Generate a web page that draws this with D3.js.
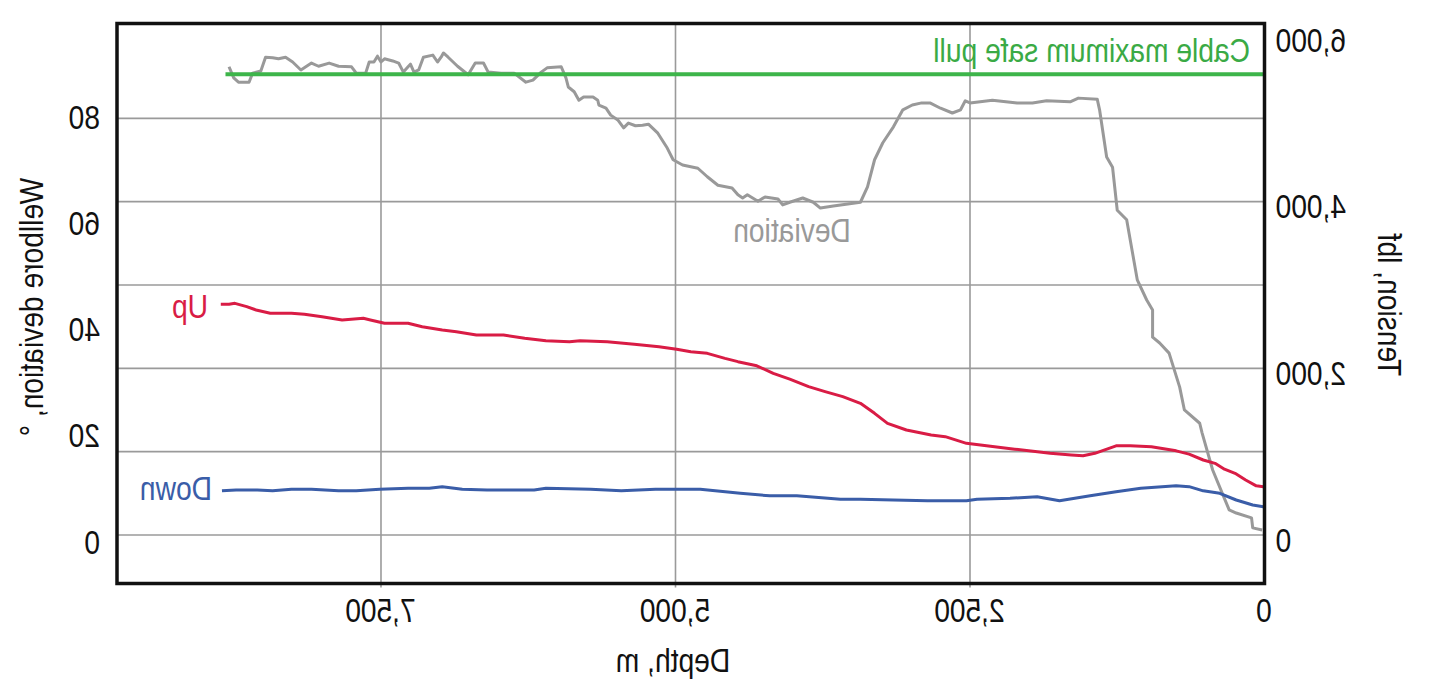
<!DOCTYPE html>
<html>
<head>
<meta charset="utf-8">
<script src="https://cdn.jsdelivr.net/npm/d3@7"></script>
<style>
  body { margin: 0; background: #fff; }
  text { font-family: "Liberation Sans", Arial, sans-serif; }
</style>
</head>
<body>
<div id="vis"></div>
<script>
// the reference is drawn mirrored, so the whole chart is built normally and flipped at the end
const W = 1442, H = 689;
const margin = { top: 23.5, right: 117, bottom: 105.5, left: 177.5 };
const width = W - margin.left - margin.right;
const height = H - margin.top - margin.bottom;
const fontSize = "34px";
const squeeze = 0.83; // the original lettering is a condensed face

// axis ticks
const depthTicks = [0, 2500, 5000, 7500];
const tensionTicks = [0, 2000, 4000, 6000];
const tensionGrid = [0, 1000, 2000, 3000, 4000, 5000];
const deviationTicks = [0, 20, 40, 60, 80];

// wellbore deviation (deg) vs depth (m)
const devDepth = [8790, 8750, 8710, 8620, 8590, 8520, 8480, 8420, 8370, 8310, 8250, 8180, 8090, 8030, 7940,
  7860, 7750, 7710, 7630, 7600, 7560, 7530, 7500, 7470, 7400, 7350, 7310, 7270, 7250, 7220, 7180, 7140,
  7060, 7020, 6990, 6970, 6930, 6850, 6760, 6700, 6630, 6590, 6480, 6370, 6270, 6210, 6140, 6090, 5970,
  5930, 5910, 5860, 5820, 5780, 5700, 5660, 5650, 5590, 5550, 5490, 5440, 5400, 5340, 5280, 5230, 5150,
  5070, 5020, 4940, 4810, 4730, 4640, 4520, 4470, 4430, 4390, 4300, 4240, 4130, 4090, 4030, 3920, 3830,
  3770, 3660, 3430, 3370, 3310, 3240, 3150, 3070, 2990, 2910, 2840, 2750, 2650, 2580, 2540, 2500, 2310,
  2100, 1970, 1850, 1650, 1580, 1420, 1400, 1340, 1290, 1250, 1170, 1080, 1000, 950, 950, 890, 810, 720,
  680, 550, 530, 440, 360, 300, 240, 110, 100, 20];
const devAngle = [88.7, 86.6, 85.8, 85.8, 87.5, 87.9, 90.5, 90.4, 90.2, 90.5, 89.6, 88.1, 89.4, 88.8, 89.4,
  88.8, 88.7, 87.5, 87.5, 89.6, 89.6, 90.7, 89.6, 90.2, 89.8, 89.4, 87.7, 88.7, 89.2, 87.7, 88.1, 90.5,
  90.9, 89.6, 90.5, 91.3, 90.5, 88.8, 87.2, 89.4, 89.4, 87.7, 87.5, 87.5, 85.8, 86.2, 87.7, 88.5, 88.7,
  86.6, 84.9, 84.0, 82.4, 83.0, 83.0, 82.4, 81.5, 80.9, 79.6, 78.7, 77.2, 78.1, 77.6, 77.7, 77.9, 76.2,
  73.4, 71.2, 70.2, 69.6, 68.0, 66.4, 65.9, 64.6, 64.0, 64.6, 63.4, 64.2, 63.8, 62.7, 63.2, 64.0, 63.2,
  62.1, 62.5, 63.2, 66.1, 71.2, 74.4, 77.4, 80.6, 81.5, 81.9, 81.9, 80.9, 80.0, 80.6, 82.3, 81.9, 82.4,
  81.9, 81.9, 82.3, 82.1, 82.8, 82.6, 80.6, 71.7, 69.8, 61.7, 59.9, 48.6, 44.8, 42.9, 37.8, 36.7, 34.8,
  28.4, 24.1, 21.6, 19.8, 12.8, 8.5, 5.3, 4.7, 3.8, 1.9, 1.5];

// pull-up tension (lbf) vs depth (m)
const upDepth = [8860, 8790, 8740, 8640, 8560, 8440, 8260, 8150, 8000, 7830, 7650, 7590, 7470, 7270, 7150,
  6980, 6860, 6690, 6460, 6280, 6100, 5900, 5810, 5580, 5350, 5140, 4990, 4870, 4730, 4580, 4470, 4310,
  4170, 4030, 3870, 3730, 3580, 3430, 3310, 3200, 3040, 2830, 2710, 2530, 2360, 2120, 1820, 1640, 1540,
  1440, 1260, 1140, 960, 750, 640, 520, 420, 340, 250, 160, 70, 10];
const upTension = [2770, 2770, 2780, 2740, 2700, 2660, 2660, 2650, 2620, 2580, 2600, 2580, 2540, 2540, 2500,
  2460, 2440, 2400, 2400, 2360, 2330, 2320, 2330, 2320, 2290, 2260, 2230, 2200, 2180, 2120, 2080, 2030,
  1940, 1870, 1780, 1720, 1660, 1580, 1460, 1340, 1260, 1200, 1180, 1100, 1070, 1030, 980, 960, 950,
  980, 1070, 1070, 1060, 1010, 970, 900, 860, 790, 740, 660, 590, 580];

// run-in tension (lbf) vs depth (m)
const downDepth = [8850, 8730, 8550, 8420, 8260, 8090, 7860, 7710, 7510, 7270, 7090, 6980, 6810, 6600, 6200,
  6100, 5720, 5460, 5170, 4790, 4450, 4200, 3970, 3600, 3430, 3150, 2860, 2530, 2440, 2160, 1930, 1740,
  1480, 1260, 1050, 750, 640, 520, 380, 240, 100, 10];
const downTension = [530, 540, 540, 530, 550, 550, 530, 530, 550, 560, 560, 580, 550, 540, 540,
  560, 550, 530, 550, 550, 500, 470, 470, 430, 430, 420, 410, 410, 430, 440, 460, 410,
  470, 520, 560, 590, 580, 530, 500, 420, 360, 340];

const safePull = 5530;
const safePullDepth = [8820, 0];

const svg = d3.select("#vis")
  .append("svg")
  .attr("width", W)
  .attr("height", H);

const root = svg.append("g")
  .attr("transform", `translate(${W},0) scale(-1,1)`);

const g = root.append("g")
  .attr("transform", `translate(${margin.left},${margin.top})`);

const xScale = d3.scaleLinear().domain([0, 9741]).range([0, width]);
const yTension = d3.scaleLinear().domain([0, 6000]).range([511.5, 11.5]);
const yDev = d3.scaleLinear().domain([0, 80]).range([514.5, 89.5]);

// narrow a text horizontally around its anchor point
function condense(sel, rot) {
  sel.each(function () {
    const t = d3.select(this);
    const x = +t.attr("x") || 0, y = +t.attr("y") || 0;
    t.attr("x", null).attr("y", null)
      .attr("transform", `translate(${x},${y})${rot ? ` rotate(${rot})` : ""} scale(${squeeze},1)`);
  });
}

// grid
g.selectAll(".hgrid")
  .data(tensionGrid)
  .enter()
  .append("line")
  .attr("class", "hgrid")
  .attr("x1", 0).attr("x2", width)
  .attr("y1", d => yTension(d)).attr("y2", d => yTension(d))
  .attr("stroke", "#9a9a9a").attr("stroke-width", 1.6);

g.selectAll(".vgrid")
  .data(depthTicks.filter(d => d > 0))
  .enter()
  .append("line")
  .attr("class", "vgrid")
  .attr("x1", d => xScale(d)).attr("x2", d => xScale(d))
  .attr("y1", 0).attr("y2", height + 4)
  .attr("stroke", "#9a9a9a").attr("stroke-width", 1.6);

// axes (labels only, the frame is drawn below)
const xAxis = d3.axisBottom(xScale).tickValues(depthTicks).tickSize(0).tickFormat(d3.format(","));
const xg = g.append("g").attr("transform", `translate(0,${height})`).call(xAxis);
xg.select(".domain").remove();
xg.selectAll("text").attr("y", 622 - margin.top - height).attr("dy", null);

const tAxis = d3.axisLeft(yTension).tickValues(tensionTicks).tickSize(0).tickFormat(d3.format(","));
const tg = g.append("g").call(tAxis);
tg.select(".domain").remove();
tg.selectAll("text").attr("x", -11).attr("dy", null).attr("y", 16);

const dAxis = d3.axisRight(yDev).tickValues(deviationTicks).tickSize(0);
const dg = g.append("g").attr("transform", `translate(${width},0)`).call(dAxis);
dg.select(".domain").remove();
dg.selectAll("text").attr("x", 17).attr("dy", null).attr("y", 15);

g.selectAll(".tick text")
  .attr("font-family", null)
  .style("font-size", fontSize)
  .attr("fill", "#111")
  .call(condense);

// series
const devLine = d3.line().x(d => xScale(d[0])).y(d => yDev(d[1]));
const tenLine = d3.line().x(d => xScale(d[0])).y(d => yTension(d[1]));

g.append("path")
  .datum(devDepth.map((d, i) => [d, devAngle[i]]))
  .attr("fill", "none").attr("stroke", "#999").attr("stroke-width", 3)
  .attr("stroke-linejoin", "round")
  .attr("d", devLine);

g.append("path")
  .datum(safePullDepth.map(d => [d, safePull]))
  .attr("fill", "none").attr("stroke", "#3db54a").attr("stroke-width", 4)
  .attr("d", tenLine);

g.append("path")
  .datum(downDepth.map((d, i) => [d, downTension[i]]))
  .attr("fill", "none").attr("stroke", "#3a5da8").attr("stroke-width", 3)
  .attr("stroke-linejoin", "round")
  .attr("d", tenLine);

g.append("path")
  .datum(upDepth.map((d, i) => [d, upTension[i]]))
  .attr("fill", "none").attr("stroke", "#d91c45").attr("stroke-width", 3)
  .attr("stroke-linejoin", "round")
  .attr("d", tenLine);

// frame
g.append("rect")
  .attr("width", width).attr("height", height)
  .attr("fill", "none").attr("stroke", "#111").attr("stroke-width", 3.5);

// labels in the plot
root.append("text")
  .attr("x", 192).attr("y", 62)
  .attr("fill", "#3aaa45").style("font-size", fontSize)
  .text("Cable maximum safe pull")
  .call(condense);

root.append("text")
  .attr("x", 650).attr("y", 242).attr("text-anchor", "middle")
  .attr("fill", "#999").style("font-size", fontSize)
  .text("Deviation")
  .call(condense);

root.append("text")
  .attr("x", 1234).attr("y", 318)
  .attr("fill", "#d91c45").style("font-size", fontSize)
  .text("Up")
  .call(condense);

root.append("text")
  .attr("x", 1230).attr("y", 500)
  .attr("fill", "#3a5da8").style("font-size", fontSize)
  .text("Down")
  .call(condense);

// axis titles
root.append("text")
  .attr("x", 769).attr("y", 672).attr("text-anchor", "middle")
  .attr("fill", "#111").style("font-size", fontSize)
  .text("Depth, m")
  .call(condense);

root.append("text")
  .attr("x", 64).attr("y", 305)
  .attr("text-anchor", "middle")
  .attr("fill", "#111").style("font-size", fontSize)
  .text("Tension, lbf")
  .call(condense, -90);

root.append("text")
  .attr("x", 1399).attr("y", 307)
  .attr("text-anchor", "middle")
  .attr("fill", "#111").style("font-size", fontSize)
  .text("Wellbore deviation, °")
  .call(condense, 90);
</script>
</body>
</html>
